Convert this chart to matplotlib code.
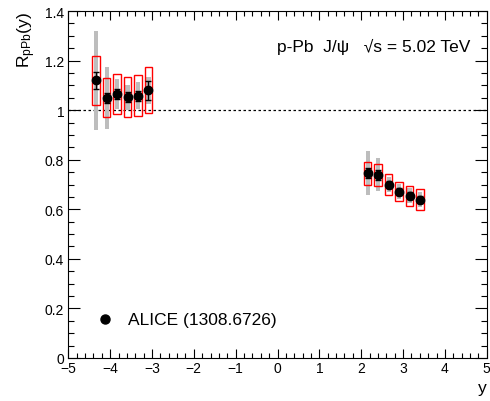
import numpy as np
import matplotlib.pyplot as plt
from matplotlib.patches import Rectangle
from matplotlib.ticker import MultipleLocator

plt.rcParams['font.family'] = ['Liberation Sans', 'DejaVu Sans']
plt.rcParams['mathtext.fontset'] = 'custom'
plt.rcParams['mathtext.rm'] = 'Liberation Sans'
plt.rcParams['mathtext.it'] = 'Liberation Sans:italic'

# rapidity bin centres (backward + forward)
y_cent = [-4.335, -4.085, -3.835, -3.585, -3.335, -3.085,
          2.155, 2.405, 2.655, 2.905, 3.155, 3.405]
rppb = [1.12, 1.05, 1.064, 1.052, 1.059, 1.08,
        0.745, 0.74, 0.70, 0.671, 0.655, 0.639]
stat_err = [0.036, 0.02, 0.02, 0.02, 0.02, 0.038,
            0.02, 0.02, 0.015, 0.015, 0.015, 0.015]
syst_uncorr = [0.098, 0.078, 0.08, 0.08, 0.083, 0.093,
               0.047, 0.044, 0.043, 0.038, 0.04, 0.042]
syst_corr = [0.2, 0.125, 0.06, 0.05, 0.055, 0.054,
             0.089, 0.067, 0.03, 0.03, 0.03, 0.03]

fig = plt.figure(figsize=(4.9, 4.02), dpi=100)
ax = fig.add_axes([0.1394, 0.107, 0.854, 0.863])

# grey bands for correlated systematics
for x, v, e in zip(y_cent, rppb, syst_corr):
    ax.add_patch(Rectangle((x - 0.05, v - e), 0.1, 2 * e,
                           facecolor=(0.74, 0.74, 0.74), edgecolor='none', zorder=1))
# red boxes for uncorrelated systematics
for x, v, e in zip(y_cent, rppb, syst_uncorr):
    ax.add_patch(Rectangle((x - 0.09, v - e), 0.18, 2 * e,
                           facecolor='none', edgecolor='red', lw=1.0, zorder=2))

ax.errorbar(y_cent, rppb, yerr=stat_err, fmt='o', color='black',
            ms=6, capsize=2, elinewidth=1, capthick=1, zorder=3)

ax.axhline(1.0, color='black', ls=(0, (2, 2)), lw=0.9, zorder=0)

ax.set_xlim(-5, 5)
ax.set_ylim(0, 1.4)
ax.xaxis.set_minor_locator(MultipleLocator(0.2))
ax.yaxis.set_minor_locator(MultipleLocator(0.05))
ax.tick_params(which='both', direction='in', top=True, right=True, labelsize=10, width=0.8)
ax.tick_params(axis='x', which='major', length=6.5, pad=2.5)
ax.tick_params(axis='x', which='minor', length=3.3)
ax.tick_params(axis='y', which='major', length=8.5, pad=3)
ax.tick_params(axis='y', which='minor', length=4.3)
ax.set_yticks([0, 0.2, 0.4, 0.6, 0.8, 1.0, 1.2, 1.4])
ax.set_yticklabels(['0', '0.2', '0.4', '0.6', '0.8', '1', '1.2', '1.4'])
ax.set_xticks(np.arange(-5, 6, 1))
ax.set_xticklabels(['\u22125', '\u22124', '\u22123', '\u22122', '\u22121',
                    '0', '1', '2', '3', '4', '5'])

ax.set_ylabel(r'R$_{\mathrm{pPb}}$(y)', fontsize=12.5, loc='top', labelpad=5)
ax.set_xlabel('y', fontsize=12.5, loc='right', labelpad=3)

ax.text(0.96, 0.899, 'p-Pb  J/\u03c8   \u221as = 5.02 TeV', transform=ax.transAxes,
        ha='right', va='center', fontsize=12.5)

ax.plot([0.088], [0.112], 'o', color='black', ms=6.5, transform=ax.transAxes, clip_on=False)
ax.text(0.142, 0.112, 'ALICE (1308.6726)', transform=ax.transAxes,
        ha='left', va='center', fontsize=12.5)

fig.savefig('out.png', dpi=100)
